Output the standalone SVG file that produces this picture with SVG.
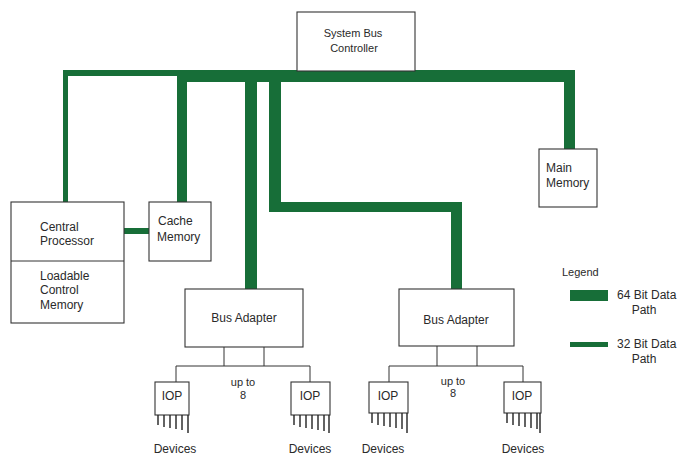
<svg xmlns="http://www.w3.org/2000/svg" width="679" height="455" viewBox="0 0 679 455">
<style>
.box{fill:#fff;stroke:#333;stroke-width:1.1}
.bus{fill:#176e38}
.thin{fill:none;stroke:#333;stroke-width:1}
.pin{stroke:#222;stroke-width:1.4}
text{font-family:"Liberation Sans",Arial,sans-serif;font-size:12px;fill:#2a2a2a}
.m{text-anchor:middle}
.s{font-size:11px}
</style>
<rect width="679" height="455" fill="#fff"/>
<g id="connectors">
<rect class="bus" x="177" y="70" width="398" height="12"/>
<rect class="bus" x="63" y="70" width="116" height="6"/>
<rect class="bus" x="63" y="70" width="5" height="132"/>
<rect class="bus" x="177" y="70" width="10" height="132"/>
<rect class="bus" x="245" y="80" width="12" height="209"/>
<rect class="bus" x="269" y="80" width="12" height="132"/>
<rect class="bus" x="269" y="202" width="193" height="10"/>
<rect class="bus" x="451" y="202" width="11" height="87"/>
<rect class="bus" x="564" y="70" width="11" height="79"/>
<rect class="bus" x="124" y="228" width="25" height="6"/>
<polyline class="thin" points="224,347 224,366"/>
<polyline class="thin" points="264,347 264,366"/>
<polyline class="thin" points="176,382 176,366 310,366 310,382"/>
<polyline class="thin" points="437,346 437,366"/>
<polyline class="thin" points="477,346 477,366"/>
<polyline class="thin" points="389,382 389,366 523,366 523,382"/>
</g>
<g id="sbc">
<rect class="box" x="297" y="12" width="118" height="59"/>
<text class="m s" x="353" y="37">System Bus</text>
<text class="m s" x="354" y="52">Controller</text>
</g>
<g id="cpu">
<rect class="box" x="11" y="202" width="113" height="121"/>
<line class="thin" x1="11" y1="261" x2="124" y2="261"/>
<text x="40" y="231">Central</text>
<text x="40" y="245">Processor</text>
<text x="40" y="280">Loadable</text>
<text x="40" y="294">Control</text>
<text x="40" y="309">Memory</text>
</g>
<g id="cache">
<rect class="box" x="149" y="202" width="62" height="59"/>
<text x="158" y="225">Cache</text>
<text x="157" y="241">Memory</text>
</g>
<g id="mainmem">
<rect class="box" x="539" y="149" width="58" height="58"/>
<text x="546" y="172">Main</text>
<text x="546" y="187">Memory</text>
</g>
<g id="ba1">
<rect class="box" x="185" y="289" width="118" height="58"/>
<text class="m" x="244" y="322">Bus Adapter</text>
</g>
<g id="ba2">
<rect class="box" x="399" y="289" width="115" height="57"/>
<text class="m" x="456" y="324">Bus Adapter</text>
</g>
<g id="labels1">
<text class="m s" x="243" y="386">up to</text>
<text class="m s" x="243" y="399">8</text>
<text class="m s" x="453" y="385">up to</text>
<text class="m s" x="453" y="397">8</text>
</g>
<g id="iop1">
<rect class="box" x="155" y="382" width="34" height="33"/>
<text class="m" x="172" y="400">IOP</text>
<path class="pin" d="M158 415v10M164 415v12M170 415v13M176 415v14M182 415v15M188 415v18"/>
<text class="m" x="175" y="453">Devices</text>
</g>
<g id="iop2">
<rect class="box" x="291" y="382" width="39" height="33"/>
<text class="m" x="310" y="400">IOP</text>
<path class="pin" d="M294 415v10M300 415v12M306 415v13M312 415v14M318 415v15M324 415v16M329 415v18"/>
<text class="m" x="310" y="453">Devices</text>
</g>
<g id="iop3">
<rect class="box" x="369" y="382" width="39" height="31"/>
<text class="m" x="388" y="400">IOP</text>
<path class="pin" d="M372 413v10M378 413v12M384 413v13M390 413v14M396 413v15M402 413v16M407 413v20"/>
<text class="m" x="383" y="453">Devices</text>
</g>
<g id="iop4">
<rect class="box" x="504" y="382" width="37" height="31"/>
<text class="m" x="522" y="400">IOP</text>
<path class="pin" d="M507 413v10M513 413v12M519 413v13M525 413v14M531 413v15M537 413v16M540 413v20"/>
<text class="m" x="523" y="453">Devices</text>
</g>
<g id="legend">
<text class="s" x="562" y="276">Legend</text>
<rect class="bus" x="570" y="290" width="38" height="11"/>
<text x="617" y="299">64 Bit Data</text>
<text class="m" x="644" y="314">Path</text>
<rect class="bus" x="570" y="342" width="38" height="5"/>
<text x="617" y="348">32 Bit Data</text>
<text class="m" x="644" y="363">Path</text>
</g>
</svg>
